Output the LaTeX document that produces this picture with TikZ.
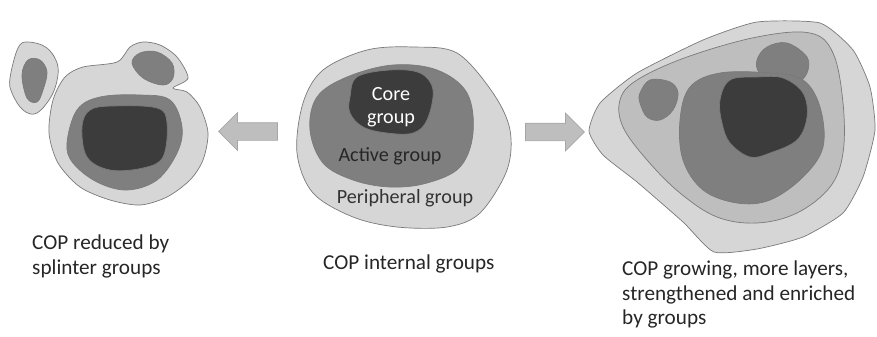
\documentclass[tikz,border=0pt]{standalone}
\usepackage{fontspec}
\setmainfont{Carlito}
\usepackage{xcolor}
\usetikzlibrary{shapes.arrows}

\definecolor{outerfill}{HTML}{D6D6D6}
\definecolor{layerfill}{HTML}{BEBEBE}
\definecolor{activefill}{HTML}{7F7F7F}
\definecolor{corefill}{HTML}{3C3C3C}
\definecolor{edgegray}{HTML}{7A7A7A}

\tikzset{
	blob/.style={draw=edgegray,line width=0.6pt},
	caption/.style={anchor=north west,inner sep=0pt,align=left,font=\fontsize{18.1}{20.6}\selectfont,text=black!85},
	label/.style={inner sep=0pt,align=center,font=\fontsize{17.2}{19.6}\selectfont},
	blockarrow/.style={single arrow,fill=layerfill,draw=black!35,line width=0.6pt,inner sep=0.255cm,
		single arrow head extend=0.3cm,minimum height=1.77cm}
}

\begin{document}
\begin{tikzpicture}[x=0.03cm,y=-0.03cm]
		\useasboundingbox (0,0) rectangle (877,336);

		% reduced community (left)
		\fill[blob,fill=outerfill] plot[smooth cycle,tension=0.6] coordinates {(10,78) (18,48) (28,42) (47,48) (58,67) (53,93) (37,113) (23,110) (12,93)};
		\fill[blob,fill=activefill] plot[smooth cycle,tension=0.6] coordinates {(22,75) (28,60) (40,60) (47,72) (43,90) (37,102) (27,98)};
		\fill[blob,fill=outerfill] plot[smooth cycle,tension=0.5] coordinates {(65,77) (83,67) (117,62) (130,47) (143,42) (160,45) (177,57) (188,78) (173,88) (187,92) (200,107) (208,133) (203,160) (190,180) (167,197) (140,205) (110,200) (80,187) (58,163) (49,133) (53,100)};
		\fill[blob,fill=activefill] plot[smooth cycle,tension=0.6] coordinates {(132,63) (140,53) (157,52) (172,63) (173,78) (163,85) (143,78)};
		\fill[blob,fill=activefill] plot[smooth cycle,tension=0.6] coordinates {(67,143) (77,110) (100,97) (140,95) (170,100) (182,127) (177,153) (157,180) (127,190) (97,182) (73,163)};
		\fill[blob,fill=corefill] plot[smooth cycle,tension=0.6] coordinates {(82,127) (90,110) (113,106) (157,108) (167,123) (163,157) (143,168) (110,170) (87,157)};

		% internal groups (middle)
		\fill[blob,fill=outerfill] plot[smooth cycle,tension=0.55] coordinates {(297,153) (303,103) (323,70) (367,50) (413,47) (457,53) (493,93) (510,130) (507,170) (480,213) (447,227) (397,227) (353,217) (313,193)};
		\fill[blob,fill=activefill] plot[smooth cycle,tension=0.6] coordinates {(310,130) (317,97) (347,77) (393,65) (437,70) (467,93) (473,133) (460,167) (427,183) (390,187) (353,180) (323,163)};
		\fill[blob,fill=corefill] plot[smooth cycle,tension=0.6] coordinates {(350,97) (357,77) (390,70) (420,73) (433,90) (427,120) (413,133) (387,133) (363,127) (350,113)};

		% growing community (right)
		\fill[blob,fill=outerfill] plot[smooth cycle,tension=0.35] coordinates {(589,131) (600,103) (637,73) (703,40) (757,22) (820,23) (853,50) (870,87) (875,130) (863,177) (843,213) (803,237) (757,249) (714,252) (683,222) (637,182) (603,155)};
		\fill[blob,fill=layerfill] plot[smooth cycle,tension=0.6] coordinates {(620,100) (637,80) (687,57) (757,37) (810,33) (833,53) (843,103) (843,153) (830,187) (797,213) (757,223) (717,217) (680,193) (647,160) (623,127)};
		\fill[blob,fill=activefill] plot[smooth cycle,tension=0.6] coordinates {(757,60) (767,47) (787,43) (807,57) (807,73) (797,82) (780,78) (760,73)};
		\fill[blob,fill=activefill] plot[smooth cycle,tension=0.6] coordinates {(640,93) (650,80) (670,82) (678,93) (673,110) (660,120) (647,117) (640,103)};
		\fill[blob,fill=activefill] plot[smooth cycle,tension=0.6] coordinates {(680,120) (690,87) (720,73) (770,73) (803,80) (820,107) (823,147) (803,177) (770,200) (737,203) (703,190) (683,160)};
		\fill[blob,fill=corefill] plot[smooth cycle,tension=0.6] coordinates {(720,100) (730,80) (757,77) (783,78) (803,93) (807,117) (797,140) (770,153) (750,157) (730,143) (722,123)};

		% arrows
		\node[blockarrow,shape border rotate=180] (shrink) at (252.5,131.5) {};
		\node[blockarrow] (grow) at (550.5,132) {};

		% group labels
		\node[label,text=white] (core) at (391,107) {Core\\group};
		\node[label,text=black!85] (active) at (390,156) {Active group};
		\node[label,text=black!80] (peripheral) at (405,198) {Peripheral group};

		% captions
		\node[caption] (reduced) at (32,235) {COP reduced by\\splinter groups};
		\node[caption] (internal) at (323,255) {COP internal groups};
		\node[caption] (growing) at (622,261) {COP growing, more layers,\\strengthened and enriched\\by groups};
	\end{tikzpicture}
\end{document}
